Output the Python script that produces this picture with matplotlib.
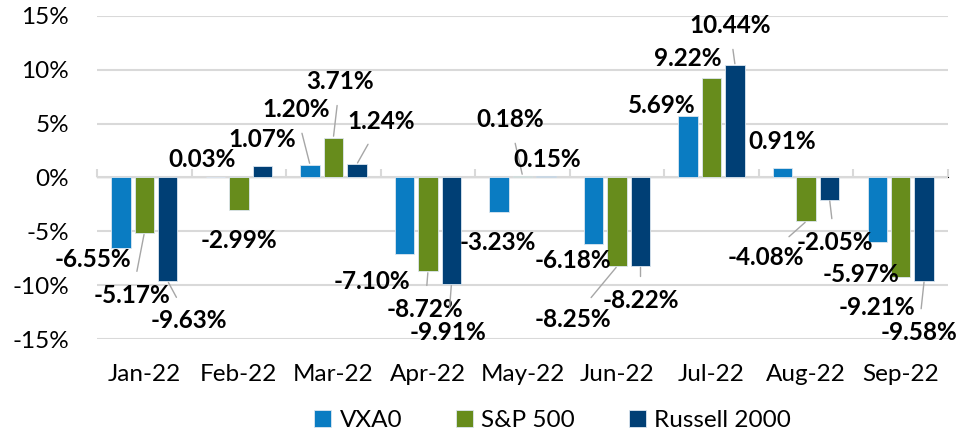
import matplotlib
matplotlib.use("Agg")
import matplotlib.pyplot as plt
import numpy as np

plt.rcParams['font.family'] = ['Lato', 'DejaVu Sans']

months = ["Jan-22", "Feb-22", "Mar-22", "Apr-22", "May-22", "Jun-22", "Jul-22", "Aug-22", "Sep-22"]
vxa0 = [-6.55, 0.03, 1.20, -7.10, -3.23, -6.18, 5.69, 0.91, -5.97]
sp500 = [-5.17, -2.99, 3.71, -8.72, 0.18, -8.25, 9.22, -4.08, -9.21]
russell = [-9.63, 1.07, 1.24, -9.91, 0.15, -8.22, 10.44, -2.05, -9.58]
series_names = ["VXA0", "S&P 500", "Russell 2000"]
yticks = [-15, -10, -5, 0, 5, 10, 15]

colors = ["#0A7CC2", "#678C1C", "#003F75"]

# label offsets in pixels (dx right, dy down) from bar tip, and leader flags
offsets = [
    [(-28, 11.5), (-13, -18), (-14, -55), (-32.6, 27.5), (-1, 30), (-21, 16.4), (-26, -10.7), (-1, -26), (-16.6, 32.7)],
    [(-12, 62), (0, 31), (6.5, -56), (-3, 38), (-12.7, -56), (-44, 53), (-24, -19.7), (-40.5, 36), (-24, 31)],
    [(21, 39), (0, -26.5), (24, -42.6), (-3.6, 48), (1, -16), (0, 34.5), (-5.4, -39.6), (5, 43), (-5.6, 52)],
]
leaders = [
    [0, 0, 1, 0, 0, 0, 0, 0, 0],
    [1, 0, 1, 1, 1, 1, 0, 1, 0],
    [1, 0, 1, 1, 0, 1, 1, 1, 1],
]

W, H = 961, 433
fig = plt.figure(figsize=(W / 100, H / 100), dpi=100)
ax = fig.add_axes([97 / W, 1 - 339 / H, (948 - 97) / W, (339 - 16) / H])

x = np.arange(len(months))
pitch = 0.248
bw = 0.205
data = [vxa0, sp500, russell]
for k, (vals, col, name) in enumerate(zip(data, colors, series_names)):
    xs = x + (k - 1) * pitch
    ax.bar(xs, vals, width=bw, color=col, edgecolor="#dce6f0", linewidth=0.6, label=name, zorder=3)
    for i, v in enumerate(vals):
        dx, dy = offsets[k][i]
        ap = None
        if leaders[k][i]:
            ap = dict(arrowstyle="-", color="#A6A6A6", lw=1.0, shrinkA=7, shrinkB=1)
        ax.annotate(f"{v:.2f}%", xy=(xs[i], v), xytext=(dx * 0.72, -dy * 0.72),
                    textcoords="offset points", ha="center", va="center",
                    fontsize=17.5, fontweight="bold", color="black", arrowprops=ap, zorder=4)

ax.set_xlim(-0.5, len(months) - 0.5)
ax.set_ylim(-15, 15)
ax.set_yticks(yticks)
ax.set_yticklabels([f"{t}%" for t in yticks])
ax.yaxis.grid(True, color="#D9D9D9", linewidth=1.5, zorder=0)
ax.set_axisbelow(True)
for s in ax.spines.values():
    s.set_visible(False)
ax.tick_params(axis="y", length=0, pad=20, labelsize=17.5, labelcolor="black")
ax.set_xticks(x)
ax.set_xticklabels(months)
ax.tick_params(axis="x", length=0, pad=18, labelsize=17.5, labelcolor="black")

sec = ax.secondary_xaxis(0.5)
sec.set_xticks(np.arange(-0.5, len(months), 1.0))
sec.set_xticklabels([])
sec.tick_params(axis="x", length=6, width=1.5, color="#D9D9D9", direction="out")
sec.spines["bottom"].set_color("#D9D9D9")
sec.spines["bottom"].set_linewidth(1.5)

fig.legend(loc="lower center", ncol=3, frameon=False, fontsize=17.5,
           bbox_to_anchor=(0.575, -0.045), handlelength=0.7, handleheight=0.7,
           handletextpad=0.35, columnspacing=2.2)

fig.savefig("out.png", dpi=100)
